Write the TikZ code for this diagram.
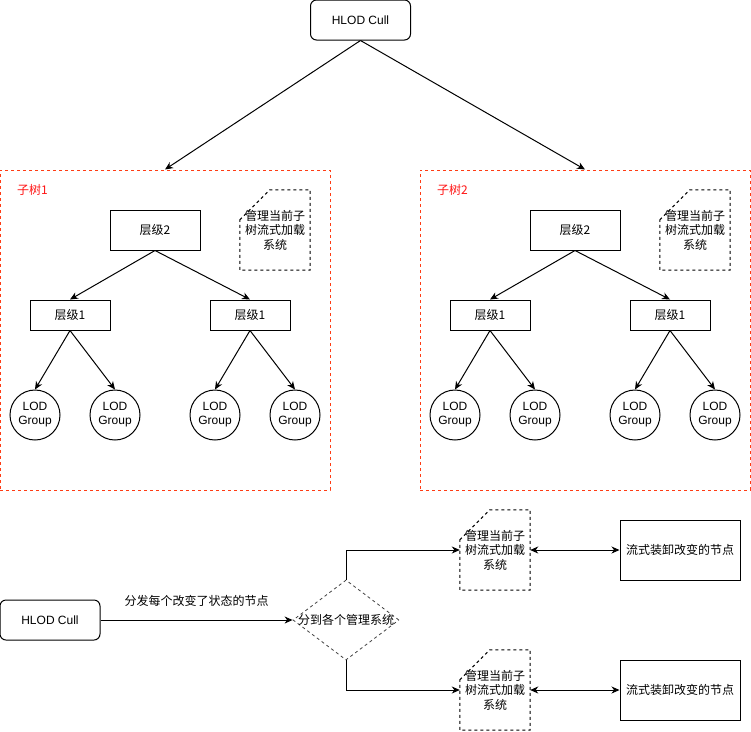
\documentclass[tikz,border=0pt]{standalone}
\usepackage{fontspec}
\setmainfont{Liberation Sans}
\newfontfamily\cjk{Noto Sans CJK SC}
\usetikzlibrary{arrows.meta,shapes.geometric}
\definecolor{subred}{RGB}{255,60,20}
\definecolor{lblred}{RGB}{255,20,20}
\tikzset{
  every node/.style={font=\fontsize{12}{14}\selectfont, inner sep=0pt},
  ln/.style={line width=1pt, draw=black},
  arr/.style={ln, -{Stealth[length=8pt,width=7pt,inset=2.5pt]}},
  darr/.style={ln, {Stealth[length=8pt,width=7pt,inset=2.5pt]}-{Stealth[length=8pt,width=7pt,inset=2.5pt]}},
  rbox/.style={ln, rectangle, rounded corners=6pt, minimum width=100pt, minimum height=40pt},
  lvbox/.style={ln, rectangle, font=\cjk\fontsize{12}{14}\selectfont},
  lodc/.style={ln, circle, minimum size=50pt, align=center, font=\fontsize{12}{14}\selectfont},
  notebox/.style={rectangle, minimum width=70pt, minimum height=80pt, align=center, font=\cjk\fontsize{12}{14.5}\selectfont},
  noteline/.style={line width=1pt, dash pattern=on 3pt off 3pt},
  subbox/.style={draw=subred, line width=1pt, dash pattern=on 3pt off 3pt, rectangle, minimum width=330pt, minimum height=320pt},
  sublabel/.style={text=lblred, anchor=west, font=\cjk\fontsize{12}{14}\selectfont},
  opbox/.style={ln, rectangle, minimum width=120pt, minimum height=60pt, font=\cjk\fontsize{12}{14}\selectfont},
}
\begin{document}
\begin{tikzpicture}[x=1pt,y=-1pt]
\useasboundingbox (0,0) rectangle (751,731);

% top node
\node[rbox] (top) at (360.5,20) {HLOD Cull};

% subtrees
\foreach \ox/\n in {0/1,420/2}{
  \node[subbox] (s\n) at (165+\ox,330) {};
  \node[sublabel] (t\n) at (17+\ox,190) {子树\n};
  \node[lvbox, minimum width=90pt, minimum height=40pt] (lv\n) at (155+\ox,230) {层级2};
  \node[notebox] (nt\n) at (275+\ox,230) {管理当前子\\树流式加载\\系统};
  \draw[noteline] ([yshift=-30pt]nt\n.north west) -- ([xshift=30pt]nt\n.north west) -- (nt\n.north east) -- (nt\n.south east) -- (nt\n.south west) -- cycle;
  \node[lvbox, minimum width=80pt, minimum height=30pt] (la\n) at (70+\ox,315) {层级1};
  \node[lvbox, minimum width=80pt, minimum height=30pt] (lb\n) at (250+\ox,315) {层级1};
  \node[lodc] (ga\n) at (35+\ox,415) {LOD\\Group};
  \node[lodc] (gb\n) at (115+\ox,415) {LOD\\Group};
  \node[lodc] (gc\n) at (215+\ox,415) {LOD\\Group};
  \node[lodc] (gd\n) at (295+\ox,415) {LOD\\Group};
  \draw[arr] (lv\n.south) -- (la\n.north);
  \draw[arr] (lv\n.south) -- (lb\n.north);
  \draw[arr] (la\n.south) -- (ga\n.north);
  \draw[arr] (la\n.south) -- (gb\n.north);
  \draw[arr] (lb\n.south) -- (gc\n.north);
  \draw[arr] (lb\n.south) -- (gd\n.north);
}
\draw[arr] (top.south) -- (s1.north);
\draw[arr] (top.south) -- (s2.north);

% bottom flow
\node[rbox] (hc) at (50,620) {HLOD Cull};
\node[draw, line width=0.8pt, dash pattern=on 3pt off 3pt, draw=black!75, shape=diamond, minimum width=106pt, minimum height=80pt,
      label={[font=\cjk\fontsize{12}{14}\selectfont]center:分到各个管理系统}] (dia) at (346,620) {};
\draw[arr] (hc.east) -- (dia.west) node[midway, yshift=19pt, font=\cjk\fontsize{12}{14}\selectfont] {分发每个改变了状态的节点};

\node[notebox] (m1) at (495,550) {管理当前子\\树流式加载\\系统};
\draw[noteline] ([yshift=-30pt]m1.north west) -- ([xshift=30pt]m1.north west) -- (m1.north east) -- (m1.south east) -- (m1.south west) -- cycle;
\node[notebox] (m2) at (495,690) {管理当前子\\树流式加载\\系统};
\draw[noteline] ([yshift=-30pt]m2.north west) -- ([xshift=30pt]m2.north west) -- (m2.north east) -- (m2.south east) -- (m2.south west) -- cycle;

\node[opbox] (b1) at (680,550) {流式装卸改变的节点};
\node[opbox] (b2) at (680,690) {流式装卸改变的节点};

\draw[arr] (dia.north) |- (m1.west);
\draw[arr] (dia.south) |- (m2.west);
\draw[darr] (m1.east) -- (b1.west);
\draw[darr] (m2.east) -- (b2.west);
\end{tikzpicture}
\end{document}
